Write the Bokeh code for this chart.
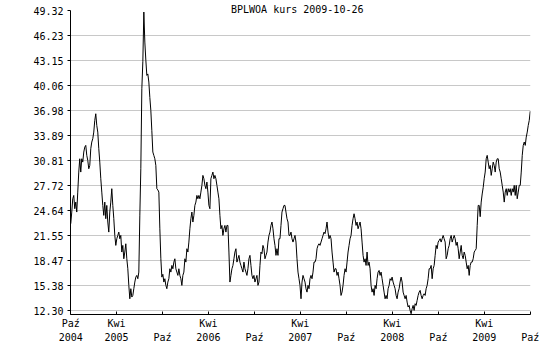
import pandas as pd
from bokeh.plotting import figure
from bokeh.models import Range1d, FixedTicker, PrintfTickFormatter, CustomJSTickFormatter, Label
from bokeh.embed import file_html
from bokeh.resources import INLINE

title_text = "BPLWOA kurs  2009-10-26"
start_date = "2004-10-26"
end_date = "2009-10-26"

y_ticks = [12.30, 15.38, 18.47, 21.55, 24.64, 27.72, 30.81, 33.89, 36.98, 40.06, 43.15, 46.23, 49.32]

x_tick_dates = ["2004-10-26", "2005-04-26", "2005-10-26", "2006-04-26", "2006-10-26",
                "2007-04-26", "2007-10-26", "2008-04-26", "2008-10-26", "2009-04-26", "2009-10-26"]
x_tick_labels = ["Paź\n2004", "Kwi\n2005", "\nPaź", "Kwi\n2006", "\nPaź", "Kwi\n2007",
                 "\nPaź", "Kwi\n2008", "\nPaź", "Kwi\n2009", "\nPaź"]

prices_2004_2005 = [
    23.03, 24.47, 26.11, 26.52, 24.88, 25.70, 24.47, 26.93, 29.40, 31.04, 29.40, 31.04, 30.63, 31.87,
    32.48, 32.69, 31.46, 30.84, 29.81, 30.22, 32.28, 33.10, 33.51, 34.33, 35.77, 36.59, 35.15, 34.33,
    32.28, 30.63, 28.58, 26.93, 25.29, 24.06, 25.70, 23.65, 25.29, 23.24, 22.00, 24.47, 25.70, 27.35,
    25.29, 23.65, 21.59, 20.36, 21.18, 21.59, 22.00, 21.18, 21.59, 19.54, 20.36, 18.71, 19.54, 20.56,
    18.71, 17.48, 15.43, 13.78, 15.02, 13.99, 14.19, 15.02, 15.84, 16.45, 16.66, 16.25,
    17.07, 24.00, 29.81, 39.67, 43.00, 49.13, 45.43, 43.20, 41.32, 41.50, 40.50, 38.60, 37.00, 34.50,
    31.87, 31.46, 31.04, 30.22, 27.35, 27.20, 26.93, 22.40, 18.71, 16.45, 16.80,
]
prices_2005_2007 = [
    15.84, 16.25, 15.43, 15.02, 15.84, 16.25, 17.48, 17.07, 17.89, 17.48, 18.30, 18.71, 17.48, 17.07,
    16.66, 17.48, 16.66, 16.25, 15.43, 16.66, 17.07, 18.71, 18.30, 19.95, 19.54, 20.77, 22.41, 23.65,
    24.47, 23.24, 24.06, 25.29, 25.70, 26.52, 26.11, 26.52, 26.11, 26.93, 27.76, 28.99, 28.58, 27.76,
    27.35, 28.17, 26.93, 25.29, 24.88, 28.58, 28.99, 29.40, 28.58, 28.99, 28.58, 27.76, 26.93, 26.11,
    24.06, 22.41, 22.82, 21.59, 22.41, 22.82, 22.00, 22.82, 22.82, 19.54, 15.84, 16.66, 17.48, 17.89,
    18.71, 19.54, 19.95, 18.30, 18.71, 19.13, 18.30, 17.89, 17.48, 17.07, 18.30, 17.48, 17.07, 16.66,
    17.48, 18.71, 19.13, 17.89, 16.66, 16.25, 16.66, 15.84, 16.25, 16.66, 15.43, 15.84, 17.89, 19.54,
    19.33, 20.36, 19.95, 18.71, 19.13, 19.54, 20.77, 21.59, 22.00, 22.82, 23.24, 22.41, 21.18, 20.36,
    19.13, 19.95, 19.13, 21.18, 21.18, 22.82, 24.47, 24.88, 25.29, 25.29, 24.47, 23.65, 23.24, 21.59,
    21.59, 22.00, 21.18, 20.77, 21.18, 21.59, 20.77, 18.71, 17.07, 16.25,
]
prices_2007_2009 = [
    15.43, 13.78, 15.84, 16.66, 16.25, 15.84, 15.02, 14.60, 15.43, 15.02, 16.25, 16.66, 16.25, 17.07,
    18.30, 18.30, 18.71, 19.95, 20.36, 20.56, 20.36, 20.77, 21.18, 21.59, 22.00, 21.80, 22.41, 23.24,
    22.00, 21.18, 21.59, 21.18, 19.54, 18.30, 17.07, 17.48, 17.48, 16.66, 17.07, 16.25, 15.43, 14.19,
    14.60, 15.43, 16.66, 17.48, 17.07, 18.30, 19.54, 20.36, 21.18, 21.59, 22.82, 23.65, 24.26, 23.65,
    22.82, 23.24, 22.41, 22.82, 23.24, 22.41, 20.77, 19.13, 18.30, 18.71, 17.89, 19.54, 17.89, 18.30,
    17.48, 15.43, 14.60, 15.02, 14.19, 15.43, 15.02, 16.25, 17.07, 17.27, 16.66, 17.07, 16.25, 15.43,
    14.60, 13.78, 14.19, 13.78, 15.02, 15.43, 16.25, 16.04, 16.45, 15.84, 15.43, 15.02, 14.19, 13.78,
    14.60, 15.02, 15.84, 16.45, 15.84, 14.60, 14.19, 13.78, 14.19, 13.37, 12.76, 12.96, 12.34, 11.93,
    12.55, 12.96, 12.34, 13.17, 12.96, 13.58, 14.19, 14.60, 14.81, 14.19, 13.78, 14.19, 14.40, 14.19,
    15.02, 15.43, 16.25, 17.48, 17.48, 17.89, 16.25, 17.48, 17.89, 19.13, 20.36, 19.95, 20.77, 20.97,
    21.18, 20.77, 21.18, 21.59, 21.18, 20.77, 18.71, 19.13, 19.95, 20.36, 21.18, 21.59, 20.77, 21.18,
    21.59, 21.18, 20.36, 20.77, 19.95, 18.71, 19.54, 20.36, 19.13, 18.71, 19.54, 19.13, 18.30, 17.48,
    17.89, 16.66, 17.89, 18.30, 18.30, 18.71, 19.54, 19.74, 19.95, 22.80, 25.29, 25.29, 23.90, 25.70,
    26.70, 27.50, 28.58, 29.40, 31.04, 31.46, 30.63, 29.81, 30.22, 28.99, 29.81, 30.63, 30.22, 29.40,
    30.63, 31.04, 31.04, 29.81, 29.40, 28.58, 27.76, 26.93, 25.70, 26.93, 27.35, 26.52, 27.35, 26.93,
    27.35, 26.52, 27.35, 26.93, 27.76, 26.52, 27.76, 26.11, 26.93, 27.76, 27.76, 29.40, 31.46, 32.69,
    33.10, 32.69, 33.71, 34.33, 35.15, 35.77, 36.90,
]

prices = prices_2004_2005 + prices_2005_2007 + prices_2007_2009
dates = pd.date_range(start_date, end_date, periods=len(prices))

FONT = "DejaVu Sans Mono"
Y_MIN, Y_TOP = 11.84, 49.32
Y_END = Y_TOP + (Y_TOP - Y_MIN) * 10 / 304  # 10px headroom for the title

p = figure(width=550, height=350, x_axis_type="datetime",
           x_range=Range1d(pd.Timestamp("2004-10-25"), pd.Timestamp("2009-10-27")),
           y_range=Range1d(Y_MIN, Y_END),
           output_backend="svg", toolbar_location=None,
           min_border_left=70, min_border_right=20, min_border_top=0, min_border_bottom=36)
p.outline_line_color = None
p.background_fill_color = "white"
p.border_fill_color = "white"

p.line(dates, prices, line_color="black", line_width=1)

tick_ms = [pd.Timestamp(d).value / 1e6 for d in x_tick_dates]
p.xaxis.ticker = FixedTicker(ticks=tick_ms)
p.xaxis.formatter = CustomJSTickFormatter(args=dict(tv=tick_ms, lab=x_tick_labels), code="""
let best = 0, dd = Infinity;
for (let i = 0; i < tv.length; i++) { const e = Math.abs(tv[i] - tick); if (e < dd) { dd = e; best = i; } }
return lab[best];
""")
p.xaxis.major_tick_in = 3
p.xaxis.major_tick_out = 0
p.xaxis.minor_tick_line_color = None
p.xaxis.major_label_standoff = 3
p.xaxis.major_label_text_line_height = 1.3

p.yaxis.ticker = FixedTicker(ticks=y_ticks)
p.yaxis.formatter = PrintfTickFormatter(format="%.2f")
p.yaxis.bounds = (Y_MIN, Y_TOP)
p.yaxis.major_tick_in = 0
p.yaxis.major_tick_out = 3
p.yaxis.minor_tick_line_color = None
p.yaxis.major_label_standoff = 4

for ax in (p.xaxis, p.yaxis):
    ax.axis_line_color = "black"
    ax.major_tick_line_color = "black"
    ax.major_label_text_font = FONT
    ax.major_label_text_font_size = "10px"
    ax.major_label_text_color = "black"

p.xgrid.visible = False
p.ygrid.ticker = FixedTicker(ticks=y_ticks[:-1])
p.ygrid.grid_line_color = "#c8c8c8"
p.ygrid.grid_line_width = 1

mid = pd.Timestamp("2007-04-26")
p.add_layout(Label(x=mid, y=Y_TOP, text=title_text, text_align="center", text_baseline="middle",
                   y_offset=1, text_font=FONT, text_font_size="10px", text_color="black"))

open("out.html", "w").write(file_html(p, INLINE))
